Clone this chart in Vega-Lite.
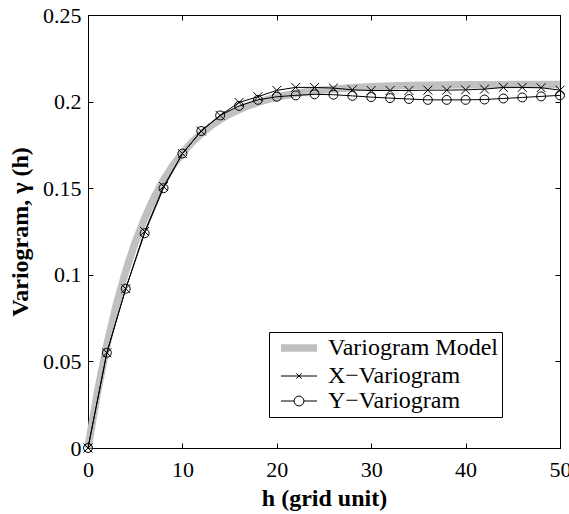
{
  "$schema": "https://vega.github.io/schema/vega-lite/v6.json",
  "width": 472,
  "height": 433,
  "autosize": {"type": "none"},
  "padding": {"left": 88, "top": 15, "right": 9, "bottom": 66},
  "background": "white",
  "config": {
    "view": {"stroke": "black", "strokeWidth": 1},
    "font": "'Liberation Serif', 'DejaVu Serif', serif",
    "axis": {
      "labelFont": "'Liberation Serif', 'DejaVu Serif', serif",
      "titleFont": "'Liberation Serif', 'DejaVu Serif', serif",
      "labelFontSize": 22,
      "titleFontSize": 24,
      "titleFontWeight": "bold",
      "labelColor": "black",
      "titleColor": "black",
      "domainColor": "black",
      "tickColor": "black",
      "grid": false,
      "tickSize": -5,
      "labelOverlap": false,
      "labelFlush": false
    }
  },
  "data": {
    "values": [
      {"h": 0, "v": 0, "series": "Variogram Model"},
      {"h": 1, "v": 0.0322, "series": "Variogram Model"},
      {"h": 2, "v": 0.0595, "series": "Variogram Model"},
      {"h": 3, "v": 0.0826, "series": "Variogram Model"},
      {"h": 4, "v": 0.1022, "series": "Variogram Model"},
      {"h": 5, "v": 0.1187, "series": "Variogram Model"},
      {"h": 6, "v": 0.1327, "series": "Variogram Model"},
      {"h": 7, "v": 0.1446, "series": "Variogram Model"},
      {"h": 8, "v": 0.1546, "series": "Variogram Model"},
      {"h": 9, "v": 0.1631, "series": "Variogram Model"},
      {"h": 10, "v": 0.1703, "series": "Variogram Model"},
      {"h": 11, "v": 0.1764, "series": "Variogram Model"},
      {"h": 12, "v": 0.1816, "series": "Variogram Model"},
      {"h": 13, "v": 0.1859, "series": "Variogram Model"},
      {"h": 14, "v": 0.1896, "series": "Variogram Model"},
      {"h": 15, "v": 0.1928, "series": "Variogram Model"},
      {"h": 16, "v": 0.1954, "series": "Variogram Model"},
      {"h": 17, "v": 0.1977, "series": "Variogram Model"},
      {"h": 18, "v": 0.1995, "series": "Variogram Model"},
      {"h": 19, "v": 0.2012, "series": "Variogram Model"},
      {"h": 20, "v": 0.2025, "series": "Variogram Model"},
      {"h": 21, "v": 0.2037, "series": "Variogram Model"},
      {"h": 22, "v": 0.2046, "series": "Variogram Model"},
      {"h": 23, "v": 0.2055, "series": "Variogram Model"},
      {"h": 24, "v": 0.2062, "series": "Variogram Model"},
      {"h": 26, "v": 0.2072, "series": "Variogram Model"},
      {"h": 28, "v": 0.208, "series": "Variogram Model"},
      {"h": 30, "v": 0.2086, "series": "Variogram Model"},
      {"h": 32, "v": 0.209, "series": "Variogram Model"},
      {"h": 34, "v": 0.2093, "series": "Variogram Model"},
      {"h": 36, "v": 0.2095, "series": "Variogram Model"},
      {"h": 38, "v": 0.2096, "series": "Variogram Model"},
      {"h": 40, "v": 0.2097, "series": "Variogram Model"},
      {"h": 42, "v": 0.2098, "series": "Variogram Model"},
      {"h": 44, "v": 0.2098, "series": "Variogram Model"},
      {"h": 46, "v": 0.2099, "series": "Variogram Model"},
      {"h": 48, "v": 0.2099, "series": "Variogram Model"},
      {"h": 50, "v": 0.2099, "series": "Variogram Model"},
      {"h": 0, "v": 0, "series": "X−Variogram"},
      {"h": 2, "v": 0.055, "series": "X−Variogram"},
      {"h": 4, "v": 0.092, "series": "X−Variogram"},
      {"h": 6, "v": 0.125, "series": "X−Variogram"},
      {"h": 8, "v": 0.151, "series": "X−Variogram"},
      {"h": 10, "v": 0.17, "series": "X−Variogram"},
      {"h": 12, "v": 0.183, "series": "X−Variogram"},
      {"h": 14, "v": 0.192, "series": "X−Variogram"},
      {"h": 16, "v": 0.1995, "series": "X−Variogram"},
      {"h": 18, "v": 0.2028, "series": "X−Variogram"},
      {"h": 20, "v": 0.2065, "series": "X−Variogram"},
      {"h": 22, "v": 0.2082, "series": "X−Variogram"},
      {"h": 24, "v": 0.2082, "series": "X−Variogram"},
      {"h": 26, "v": 0.2078, "series": "X−Variogram"},
      {"h": 28, "v": 0.2068, "series": "X−Variogram"},
      {"h": 30, "v": 0.2064, "series": "X−Variogram"},
      {"h": 32, "v": 0.2064, "series": "X−Variogram"},
      {"h": 34, "v": 0.2064, "series": "X−Variogram"},
      {"h": 36, "v": 0.2066, "series": "X−Variogram"},
      {"h": 38, "v": 0.2066, "series": "X−Variogram"},
      {"h": 40, "v": 0.2068, "series": "X−Variogram"},
      {"h": 42, "v": 0.2072, "series": "X−Variogram"},
      {"h": 44, "v": 0.2082, "series": "X−Variogram"},
      {"h": 46, "v": 0.2082, "series": "X−Variogram"},
      {"h": 48, "v": 0.208, "series": "X−Variogram"},
      {"h": 50, "v": 0.2066, "series": "X−Variogram"},
      {"h": 0, "v": 0, "series": "Y−Variogram"},
      {"h": 2, "v": 0.055, "series": "Y−Variogram"},
      {"h": 4, "v": 0.092, "series": "Y−Variogram"},
      {"h": 6, "v": 0.124, "series": "Y−Variogram"},
      {"h": 8, "v": 0.15, "series": "Y−Variogram"},
      {"h": 10, "v": 0.17, "series": "Y−Variogram"},
      {"h": 12, "v": 0.183, "series": "Y−Variogram"},
      {"h": 14, "v": 0.192, "series": "Y−Variogram"},
      {"h": 16, "v": 0.1975, "series": "Y−Variogram"},
      {"h": 18, "v": 0.201, "series": "Y−Variogram"},
      {"h": 20, "v": 0.2028, "series": "Y−Variogram"},
      {"h": 22, "v": 0.2036, "series": "Y−Variogram"},
      {"h": 24, "v": 0.2042, "series": "Y−Variogram"},
      {"h": 26, "v": 0.204, "series": "Y−Variogram"},
      {"h": 28, "v": 0.2033, "series": "Y−Variogram"},
      {"h": 30, "v": 0.2026, "series": "Y−Variogram"},
      {"h": 32, "v": 0.202, "series": "Y−Variogram"},
      {"h": 34, "v": 0.2015, "series": "Y−Variogram"},
      {"h": 36, "v": 0.201, "series": "Y−Variogram"},
      {"h": 38, "v": 0.201, "series": "Y−Variogram"},
      {"h": 40, "v": 0.201, "series": "Y−Variogram"},
      {"h": 42, "v": 0.2012, "series": "Y−Variogram"},
      {"h": 44, "v": 0.2018, "series": "Y−Variogram"},
      {"h": 46, "v": 0.2024, "series": "Y−Variogram"},
      {"h": 48, "v": 0.203, "series": "Y−Variogram"},
      {"h": 50, "v": 0.2036, "series": "Y−Variogram"}
    ]
  },
  "layer": [
    {
      "mark": {"type": "line", "strokeCap": "butt"},
      "encoding": {
        "x": {
          "field": "h",
          "type": "quantitative",
          "scale": {"domain": [0, 50], "nice": false, "zero": false},
          "axis": {
            "orient": "bottom",
            "values": [0, 10, 20, 30, 40, 50],
            "format": "d",
            "title": "h (grid unit)",
            "labelPadding": 16,
            "titlePadding": 6
          }
        },
        "y": {
          "field": "v",
          "type": "quantitative",
          "scale": {"domain": [0, 0.25], "nice": false},
          "axis": {
            "orient": "left",
            "values": [0, 0.05, 0.1, 0.15, 0.2, 0.25],
            "format": ".2~f",
            "title": "Variogram, γ (h)",
            "labelPadding": 12,
            "titlePadding": 10
          }
        },
        "color": {
          "field": "series",
          "type": "nominal",
          "scale": {
            "domain": ["Variogram Model", "X−Variogram", "Y−Variogram"],
            "range": ["#c0c0c0", "#000000", "#000000"]
          },
          "legend": {
            "orient": "none",
            "legendX": 181,
            "legendY": 317,
            "title": null,
            "strokeColor": "black",
            "fillColor": "white",
            "padding": 4,
            "labelFont": "'Liberation Serif', 'DejaVu Serif', serif",
            "labelFontSize": 24,
            "labelColor": "black",
            "labelLimit": 0,
            "symbolSize": 324,
            "symbolType": "M-2,0H2",
            "symbolOffset": 14,
            "labelOffset": 17,
            "rowPadding": 1,
            "labelExpr": "datum.label + '\u2002\u2009'",
            "encode": {
              "symbols": {
                "update": {
                  "shape": {"signal": "datum.value === 'Variogram Model' ? 'M-2,0H2' : datum.value === 'X−Variogram' ? 'M-2,0H2M-0.3,-0.3L0.3,0.3M-0.3,0.3L0.3,-0.3' : 'M-2,0H-0.55M0.55,0H2M-0.55,0A0.55,0.55,0,1,1,0.55,0A0.55,0.55,0,1,1,-0.55,0'"},
                  "strokeWidth": {"signal": "datum.value === 'Variogram Model' ? 7.5 : 1"},
                  "stroke": {"signal": "datum.value === 'Variogram Model' ? '#c0c0c0' : 'black'"},
                  "fill": {"value": "transparent"},
                  "opacity": {"value": 1}
                }
              }
            }
          }
        },
        "strokeWidth": {
          "condition": {"test": "datum.series === 'Variogram Model'", "value": 7.5},
          "value": 1
        }
      }
    },
    {
      "transform": [{"filter": "datum.series !== 'Variogram Model'"}],
      "mark": {"type": "point", "filled": false, "stroke": "black", "strokeWidth": 1, "size": 80, "opacity": 1},
      "encoding": {
        "x": {
          "field": "h",
          "type": "quantitative",
          "axis": {"orient": "top", "values": [0, 10, 20, 30, 40, 50], "labels": false, "title": null}
        },
        "y": {
          "field": "v",
          "type": "quantitative",
          "axis": {"orient": "right", "values": [0, 0.05, 0.1, 0.15, 0.2, 0.25], "labels": false, "title": null}
        },
        "shape": {
          "field": "series",
          "type": "nominal",
          "scale": {
            "domain": ["X−Variogram", "Y−Variogram"],
            "range": ["M-1,-1L1,1M-1,1L1,-1", "circle"]
          },
          "legend": null
        }
      }
    }
  ],
  "resolve": {"axis": {"x": "independent", "y": "independent"}}
}
